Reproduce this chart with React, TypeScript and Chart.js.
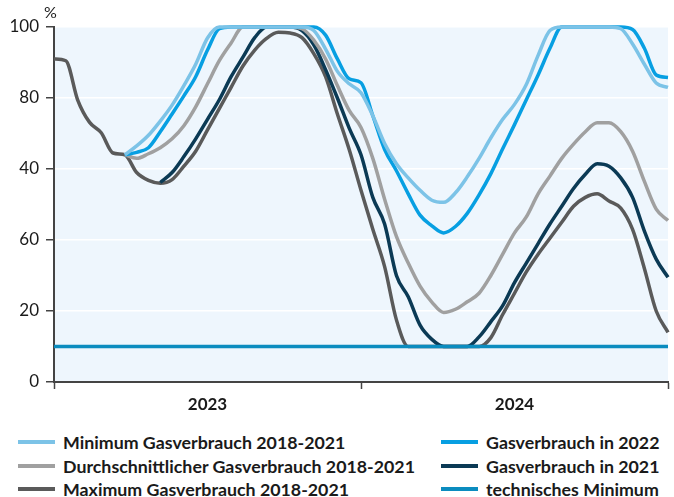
import React, { useEffect, useRef } from "react";
import { Chart, registerables } from "chart.js";

Chart.register(...registerables);

// ---- data ----
const weeks = [
  "0", "2", "4", "6", "8", "10", "12", "14", "16", "18", "20", "22", "24", "26", "28", "30", "32", "34",
  "36", "38", "40", "42", "44", "46", "48", "50", "52", "54", "56", "58", "60", "62", "64", "66", "68",
  "70", "72", "74", "76", "78", "80", "82", "84", "86", "88", "90", "92", "94", "96", "98", "100", "102", "104",
];

const minimumVerbrauch = [
  null, null, null, null, null, null, 64, 66.5, 69.5, 73.5, 78, 83.5, 89.5, 96.9, 100, 100, 100, 100,
  100, 100, 100, 100, 99, 93.8, 87.5, 84, 81.5, 75, 67.2, 61.5, 57.5, 54, 51.2, 50.6, 53.3,
  57.8, 63, 68.8, 74, 78.2, 83.8, 92, 99, 100, 100, 100, 100, 100, 99.5, 95.2, 89.5, 84.2, 83,
];

const durchschnittVerbrauch = [
  null, null, null, null, null, null, 64, 63, 64.3, 66, 68.5, 72.2, 77.5, 84, 90.5, 95.5, 100, 100,
  100, 100, 100, 99.5, 96.3, 91, 83.5, 76.5, 71.7, 63, 51.5, 41, 33.5, 27, 22.5, 19.6, 20.5,
  22.6, 25, 30, 36, 42, 46.5, 53, 58, 63, 67, 70.5, 73, 73, 70.5, 65, 56.5, 48.7, 45.5,
];

const maximumVerbrauch = [
  91, 90.5, 79.5, 73.2, 70.2, 64.5, 64, 59, 56.8, 56, 57, 60.8, 65, 71, 77, 83, 89, 93.5,
  96.8, 98.5, 98.3, 97, 92.5, 86, 75.5, 65.5, 54, 43, 32.5, 17.5, 10, 10, 10, 10, 10,
  10, 10, 12.5, 19, 25, 31, 36, 40.5, 45, 49.5, 52, 53, 51, 49, 43, 32, 20, 14,
];

const verbrauch2022 = [
  null, null, null, null, null, null, 64, 64.7, 66, 70.5, 75.5, 80.6, 86, 93.5, 99.5, 100, 100, 100,
  100, 100, 100, 100, 100, 97.7, 91, 85.4, 84.3, 75, 65.5, 59.5, 53, 47, 44, 42, 43.8,
  47.5, 52.7, 58.7, 65.7, 72.5, 79.5, 86.5, 94, 100, 100, 100, 100, 100, 100, 99.3, 94, 86.5, 85.8,
];

const verbrauch2021 = [
  null, null, null, null, null, null, null, null, null, 56.2, 59, 63.5, 68.5, 74, 79.5, 86, 91.5, 97,
  100, 100, 100, 99, 95, 88, 80, 71.5, 64, 52, 44.5, 30, 24, 16, 12, 10, 10,
  10, 12.7, 17, 21.5, 28, 33.5, 39, 44.5, 49.5, 54.5, 58.5, 61.5, 60.8, 57.5, 52, 42.5, 34.6, 29.5,
];

const technischesMinimum = [
  { x: "0", y: 10 },
  { x: "104", y: 10 },
];

const yTickValues = [0, 20, 40, 60, 80, 100];
const yTickLabels = ["0", "20", "60", "40", "80", "100"];
const yearLabels = ["2023", "2024"];
const yearLabelWeeks = ["26", "78"];
const yearBoundaryWeeks = ["0", "52", "104"];

const seriesNames = [
  "Minimum Gasverbrauch 2018-2021",
  "Durchschnittlicher Gasverbrauch 2018-2021",
  "Maximum Gasverbrauch 2018-2021",
  "Gasverbrauch in 2022",
  "Gasverbrauch in 2021",
  "technisches Minimum",
];

// ---- styles ----
const COLORS = ["#7cc3e7", "#a0a0a0", "#5a5a5a", "#079fe2", "#0b3a55", "#0b8cbf"];
const ORDER = [1, 3, 5, 2, 4, 0];
const FONT = "Lato, 'Noto Sans', sans-serif";
const TEXT = "#1a1a1a";
const AXIS = "#444444";
const PLOT_BG = "#eef6fd";

const bgPlugin = {
  id: "plotBg",
  beforeDraw(chart: any) {
    const { ctx, chartArea } = chart;
    if (!chartArea) return;
    ctx.save();
    ctx.fillStyle = PLOT_BG;
    ctx.fillRect(chartArea.left, chartArea.top, chartArea.right - chartArea.left, chartArea.bottom - chartArea.top);
    ctx.restore();
  },
};

export default function App() {
  const canvasRef = useRef<HTMLCanvasElement | null>(null);

  useEffect(() => {
    if (!canvasRef.current) return;
    const allData: any[] = [
      minimumVerbrauch,
      durchschnittVerbrauch,
      maximumVerbrauch,
      verbrauch2022,
      verbrauch2021,
      technischesMinimum,
    ];
    const datasets = allData.map((d, i) => ({
      label: seriesNames[i],
      data: d,
      borderColor: COLORS[i],
      backgroundColor: COLORS[i],
      borderWidth: 3.5,
      pointRadius: 0,
      pointHoverRadius: 0,
      cubicInterpolationMode: "monotone" as const,
      spanGaps: i === 5,
      order: ORDER[i],
      clip: 6,
    }));

    const chart = new Chart(canvasRef.current, {
      type: "line",
      data: { labels: weeks, datasets },
      plugins: [bgPlugin],
      options: {
        animation: false,
        responsive: false,
        devicePixelRatio: 1,
        layout: { padding: { top: 27, right: 6, left: 0, bottom: 0 } },
        plugins: { legend: { display: false }, tooltip: { enabled: false } },
        scales: {
          x: {
            type: "category",
            offset: false,
            afterFit: (s: any) => {
              s.height = 38;
            },
            border: { color: AXIS, width: 2 },
            grid: {
              drawOnChartArea: false,
              tickLength: 7,
              tickWidth: 1.5,
              tickColor: (ctx: any) =>
                yearBoundaryWeeks.includes(weeks[ctx.index]) ? AXIS : "rgba(0,0,0,0)",
            },
            ticks: {
              autoSkip: false,
              maxRotation: 0,
              padding: 5,
              color: TEXT,
              font: { family: FONT, size: 17, weight: "bold" },
              callback: (_v: any, i: number) => {
                const k = yearLabelWeeks.indexOf(weeks[i]);
                return k >= 0 ? yearLabels[k] : "";
              },
            },
          },
          y: {
            min: 0,
            max: 100,
            afterFit: (s: any) => {
              s.width = 54;
            },
            afterBuildTicks: (s: any) => {
              s.ticks = yTickValues.map((v) => ({ value: v }));
            },
            border: { color: AXIS, width: 2 },
            grid: {
              color: (ctx: any) => (ctx.tick && ctx.tick.value === 0 ? "rgba(0,0,0,0)" : "#ffffff"),
              lineWidth: 1.5,
              tickColor: AXIS,
              tickLength: 8,
              tickWidth: 1.5,
            },
            ticks: {
              padding: 7,
              color: TEXT,
              font: { family: FONT, size: 17 },
              callback: (v: any) => {
                const k = yTickValues.indexOf(Number(v));
                return k >= 0 ? yTickLabels[k] : "";
              },
            },
          },
        },
      },
    });
    return () => chart.destroy();
  }, []);

  const legendCols = [
    { x: 18, items: [0, 1, 2] },
    { x: 441, items: [3, 4, 5] },
  ];
  const rowY = [442, 465.5, 488.5];

  return (
    <div style={{ position: "absolute", left: 0, top: 0, width: 674, height: 497, fontFamily: FONT, color: TEXT }}>
      <canvas ref={canvasRef} width={674} height={420} style={{ position: "absolute", left: 0, top: 0, width: 674, height: 420 }} />
      <div style={{ position: "absolute", left: 44, top: 2, fontSize: 16, lineHeight: "20px" }}>%</div>
      {legendCols.map((col) =>
        col.items.map((idx, r) => (
          <div
            key={idx}
            style={{
              position: "absolute",
              left: col.x,
              top: rowY[r] - 11,
              height: 22,
              display: "flex",
              alignItems: "center",
              whiteSpace: "nowrap",
              fontSize: 17.8,
              fontWeight: 700,
            }}
          >
            <span style={{ display: "inline-block", width: 37, height: 4, background: COLORS[idx], marginRight: 8 }} />
            <span>{seriesNames[idx]}</span>
          </div>
        ))
      )}
    </div>
  );
}
